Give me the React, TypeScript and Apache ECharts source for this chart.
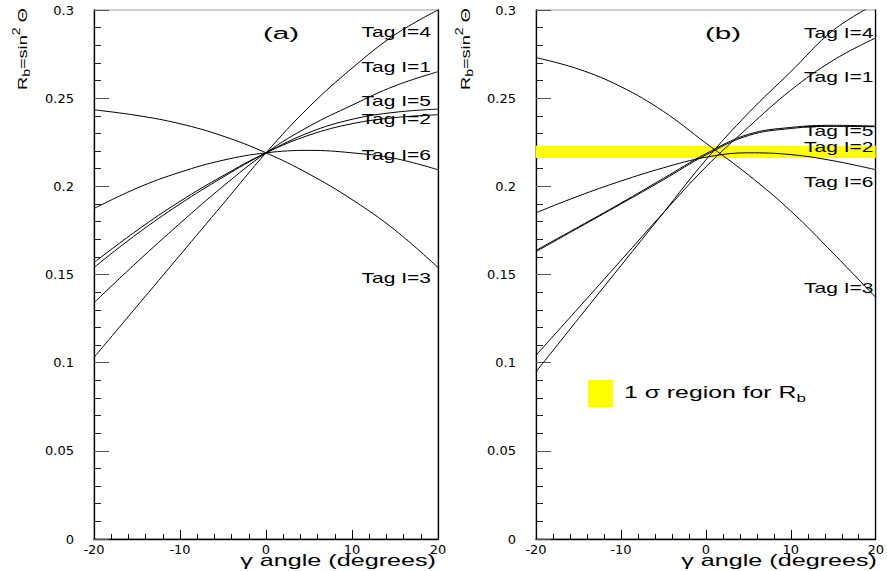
import React, { useEffect, useRef } from "react";
import * as echarts from "echarts";

// ---- data ----
const gamma = [-20, -15, -10, -5, 0, 5, 10, 15, 20];
const tagNames = ["Tag I=1", "Tag I=2", "Tag I=3", "Tag I=4", "Tag I=5", "Tag I=6"];

// panel (a)
const aTag1 = [0.134, 0.157, 0.179, 0.2, 0.219, 0.234, 0.246, 0.257, 0.265];
const aTag2 = [0.1568, 0.175, 0.1915, 0.206, 0.219, 0.229, 0.2355, 0.239, 0.2406];
const aTag3 = [0.2434, 0.2402, 0.2355, 0.2285, 0.219, 0.207, 0.1925, 0.1752, 0.154];
const aTag4 = [0.103, 0.132, 0.161, 0.19, 0.219, 0.245, 0.267, 0.286, 0.3];
const aTag5 = [0.154, 0.173, 0.19, 0.2052, 0.219, 0.2305, 0.238, 0.242, 0.2438];
const aTag6 = [0.1874, 0.199, 0.208, 0.2148, 0.219, 0.2204, 0.219, 0.2158, 0.2094];

// panel (b)
const bTag1 = [0.1042, 0.131, 0.158, 0.185, 0.211, 0.2335, 0.2545, 0.2715, 0.2842];
const bTag2 = [0.163, 0.1765, 0.19, 0.2037, 0.2178, 0.2288, 0.2328, 0.234, 0.2338];
const bTag3 = [0.273, 0.2665, 0.2565, 0.2425, 0.2245, 0.2065, 0.186, 0.162, 0.137];
const bTag4 = [0.0948, 0.125, 0.155, 0.185, 0.215, 0.2415, 0.265, 0.2885, 0.3035];
const bTag5 = [0.1637, 0.177, 0.1905, 0.2045, 0.2185, 0.2295, 0.2334, 0.2346, 0.2342];
const bTag6 = [0.185, 0.1945, 0.203, 0.2105, 0.2165, 0.219, 0.218, 0.2145, 0.2094];

const sigmaBand = [0.216, 0.223];

// axis ranges / ticks
const xRange = [-20, 20];
const xInterval = 10;
const yRange = [0, 0.3];
const yInterval = 0.05;

const panelTitles = ["(a)", "(b)"];
const xTitle = "γ angle (degrees)";
const legendText = "1 σ region for R";

const FONT = "Liberation Sans";

export default function App() {
  const ref = useRef<HTMLDivElement>(null);

  useEffect(() => {
    document.body.style.margin = "0";
    if (!ref.current) return;
    const chart = echarts.init(ref.current, undefined, { renderer: "svg" });

    const grids = [
      { left: 94, top: 10, width: 344, height: 529 },
      { left: 536, top: 10, width: 345, height: 529 },
    ];

    const xAxes = grids.map((_, i) => ({
      type: "value",
      gridIndex: i,
      min: xRange[0],
      max: xRange[1],
      interval: xInterval,
      axisLine: { show: true, onZero: false, lineStyle: { color: "#000", width: 1.3 } },
      axisTick: { show: true, inside: true, length: 9, lineStyle: { color: "#000", width: 1 } },
      minorTick: { show: true, splitNumber: 5, length: 5, lineStyle: { color: "#000", width: 1 } },
      splitLine: { show: false },
      minorSplitLine: { show: false },
      axisLabel: {
        color: "#000",
        fontFamily: "DejaVu Sans",
        fontSize: 13,
        margin: 4,
        showMinLabel: true,
        showMaxLabel: true,
      },
    }));

    const yAxes: any[] = grids.map((_, i) => ({
      type: "value",
      gridIndex: i,
      min: yRange[0],
      max: yRange[1],
      interval: yInterval,
      axisLine: { show: true, onZero: false, lineStyle: { color: "#000", width: 1.3 } },
      axisTick: { show: true, inside: true, length: 15, lineStyle: { color: "#555", width: 1 } },
      minorTick: { show: true, splitNumber: 5, length: 7, lineStyle: { color: "#222", width: 1 } },
      splitLine: { show: false },
      minorSplitLine: { show: false },
      axisLabel: {
        color: "#000",
        fontFamily: "DejaVu Sans",
        fontSize: 13,
        margin: 20,
        showMinLabel: true,
        showMaxLabel: true,
      },
    }));
    // right-hand frame lines
    grids.forEach((_, i) => {
      yAxes.push({
        type: "value",
        gridIndex: i,
        position: "right",
        min: yRange[0],
        max: yRange[1],
        interval: yInterval,
        axisLine: { show: true, onZero: false, lineStyle: { color: "#000", width: 1.3 } },
        axisTick: { show: false },
        axisLabel: { show: false },
        splitLine: { show: false },
      });
    });

    const mk = (arr: number[]) => gamma.map((g, i) => [g, arr[i]]);
    const lineSeries = (name: string, arr: number[], panel: number) => ({
      name,
      type: "line",
      xAxisIndex: panel,
      yAxisIndex: panel,
      data: mk(arr),
      smooth: 0.4,
      symbol: "none",
      z: 3,
      silent: true,
      lineStyle: { color: "#000", width: 1 },
    });

    const aData = [aTag1, aTag2, aTag3, aTag4, aTag5, aTag6];
    const bData = [bTag1, bTag2, bTag3, bTag4, bTag5, bTag6];

    const series: any[] = [
      {
        name: "band",
        type: "line",
        xAxisIndex: 1,
        yAxisIndex: 1,
        data: [
          [xRange[0], (sigmaBand[0] + sigmaBand[1]) / 2],
          [xRange[1], (sigmaBand[0] + sigmaBand[1]) / 2],
        ],
        symbol: "none",
        z: 1,
        silent: true,
        lineStyle: { opacity: 0 },
        markArea: {
          silent: true,
          itemStyle: { color: "#ffff00", opacity: 1 },
          data: [[{ yAxis: sigmaBand[0] }, { yAxis: sigmaBand[1] }]],
        },
      },
      ...aData.map((d, i) => lineSeries("a " + tagNames[i], d, 0)),
      ...bData.map((d, i) => lineSeries("b " + tagNames[i], d, 1)),
    ];

    // label positions (pixel annotations)
    const aLabelY = [67, 119, 278.5, 32, 101.5, 155];
    const bLabelY = [77.5, 147, 288.5, 33, 131, 182];

    const tagText = (txt: string, x: number, y: number) => ({
      type: "text",
      x,
      y,
      scaleX: 1.5,
      silent: true,
      z: 10,
      style: {
        text: txt,
        fill: "#000",
        fontFamily: FONT,
        fontSize: 14,
        align: "left",
        verticalAlign: "middle",
      },
    });

    const yTitle = (x: number) => ({
      type: "text",
      x,
      y: 90,
      rotation: Math.PI / 2,
      scaleX: 1.4,
      silent: true,
      z: 10,
      style: {
        text: "{m|R}{s|b}{m|=sin}{p|2}{m| Θ}",
        fill: "#000",
        align: "left",
        verticalAlign: "middle",
        rich: {
          m: { fontFamily: FONT, fontSize: 13, lineHeight: 20, fill: "#000", verticalAlign: "middle" },
          s: { fontFamily: FONT, fontSize: 10, lineHeight: 2, fill: "#000", verticalAlign: "bottom" },
          p: { fontFamily: FONT, fontSize: 10, lineHeight: 10, fill: "#000", verticalAlign: "top" },
        },
      },
    });

    const xTitleEl = (x: number) => ({
      type: "text",
      x,
      y: 560,
      scaleX: 1.48,
      silent: true,
      z: 10,
      style: {
        text: xTitle,
        fill: "#000",
        fontFamily: FONT,
        fontSize: 17,
        align: "right",
        verticalAlign: "middle",
      },
    });

    const panelTitle = (txt: string, x: number) => ({
      type: "text",
      x,
      y: 33,
      scaleX: 1.85,
      silent: true,
      z: 10,
      style: {
        text: txt,
        fill: "#000",
        fontFamily: FONT,
        fontSize: 16,
        align: "center",
        verticalAlign: "middle",
      },
    });

    const graphic: any[] = [
      yTitle(22),
      yTitle(465),
      xTitleEl(436),
      xTitleEl(877),
      panelTitle(panelTitles[0], 281),
      panelTitle(panelTitles[1], 723),
      ...tagNames.map((t, i) => tagText(t, 361.5, aLabelY[i])),
      ...tagNames.map((t, i) => tagText(t, 804, bLabelY[i])),
      {
        type: "rect",
        silent: true,
        z: 10,
        shape: { x: 588, y: 380, width: 25, height: 27 },
        style: { fill: "#ffff00" },
      },
      {
        type: "text",
        x: 624,
        y: 392,
        scaleX: 1.55,
        silent: true,
        z: 10,
        style: {
          text: "{m|" + legendText + "}{s|b}",
          fill: "#000",
          align: "left",
          verticalAlign: "middle",
          rich: {
            m: { fontFamily: FONT, fontSize: 16, lineHeight: 24, fill: "#000", verticalAlign: "middle" },
            s: { fontFamily: FONT, fontSize: 11, fill: "#000", verticalAlign: "bottom" },
          },
        },
      },
    ];

    chart.setOption({
      animation: false,
      backgroundColor: "#fff",
      grid: grids.map((g) => ({ ...g, show: true, borderColor: "#999", borderWidth: 1, containLabel: false })),
      xAxis: xAxes,
      yAxis: yAxes,
      series,
      graphic,
    });

    return () => chart.dispose();
  }, []);

  return (
    <div
      ref={ref}
      style={{ position: "fixed", left: 0, top: 0, width: 887, height: 571, background: "#fff" }}
    />
  );
}
